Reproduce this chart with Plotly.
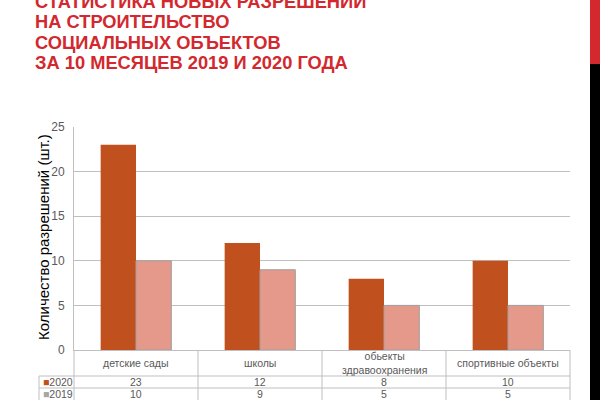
import plotly.graph_objects as go

# данные
categories = ['детские сады', 'школы', 'обьекты<br>здравоохранения', 'спортивные объекты']
years = ['2020', '2019']
values_2020 = [23, 12, 8, 10]
values_2019 = [10, 9, 5, 5]
title_lines = [
    'СТАТИСТИКА НОВЫХ РАЗРЕШЕНИЙ',
    'НА СТРОИТЕЛЬСТВО',
    'СОЦИАЛЬНЫХ ОБЪЕКТОВ',
    'ЗА 10 МЕСЯЦЕВ 2019 И 2020 ГОДА',
]
y_title = 'Количество разрешений (шт.)'
y_ticks = [0, 5, 10, 15, 20, 25]

FONT = 'Liberation Sans, Arial, sans-serif'
C2020 = '#C1501F'
C2019 = '#E5998B'
GRID = '#BFBFBF'
GREY_TXT = '#595959'

# область графика в пикселях: x 74..570, y 127..350
PL, PR, PT, PB = 74, 570, 127, 350


def py(y):  # пиксели -> paper по y
    return (PB - y) / (PB - PT)


def px_(x):  # пиксели -> paper по x
    return (x - PL) / (PR - PL)


xs = list(range(len(categories)))

fig = go.Figure()
fig.add_trace(go.Bar(x=xs, y=values_2020, name=years[0],
                     marker=dict(color=C2020, line=dict(width=0))))
fig.add_trace(go.Bar(x=xs, y=values_2019, name=years[1],
                     marker=dict(color=C2019, line=dict(width=1, color='#A0A0A0'))))

shapes = []
ann = []

# таблица данных под графиком
row_top, row_cat, row_2020, row_2019 = PB, 376, 388, 400
for b in [i + 0.5 for i in xs[:-1]]:
    shapes.append(dict(type='line', xref='x', yref='paper', x0=b, x1=b,
                       y0=py(row_top), y1=py(row_2019 + 2), line=dict(color=GRID, width=1)))
for xp in [0, 1]:
    shapes.append(dict(type='line', xref='paper', yref='paper', x0=xp, x1=xp,
                       y0=py(row_top), y1=py(row_2019 + 2), line=dict(color=GRID, width=1)))
shapes.append(dict(type='line', xref='paper', yref='paper', x0=px_(39), x1=px_(39),
                   y0=py(row_cat), y1=py(row_2019 + 2), line=dict(color=GRID, width=1)))
for yy in [row_cat, row_2020]:
    shapes.append(dict(type='line', xref='paper', yref='paper', x0=px_(39), x1=1,
                       y0=py(yy), y1=py(yy), line=dict(color=GRID, width=1)))

cell_font = dict(size=10.5, color=GREY_TXT, family=FONT)
for i, c in enumerate(categories):
    ann.append(dict(x=i, y=py((row_top + row_cat) / 2), xref='x', yref='paper', text=c,
                    xanchor='center', yanchor='middle', showarrow=False, font=cell_font))
for vals, y0, y1 in [(values_2020, row_cat, row_2020), (values_2019, row_2020, row_2019)]:
    for i, v in enumerate(vals):
        ann.append(dict(x=i, y=py((y0 + y1) / 2), xref='x', yref='paper', text=str(v),
                        xanchor='center', yanchor='middle', showarrow=False, font=cell_font))
for yr, col, y0, y1 in [(years[0], C2020, row_cat, row_2020), (years[1], '#A6A6A6', row_2020, row_2019)]:
    ann.append(dict(x=px_(41), y=py((y0 + y1) / 2), xref='paper', yref='paper',
                    xanchor='left', yanchor='middle', showarrow=False,
                    text=f"<span style='color:{col}'>■</span>{yr}", font=cell_font))

# подпись оси Y
ann.append(dict(x=px_(43), y=py(237), xref='paper', yref='paper', text=y_title,
                textangle=-90, xanchor='center', yanchor='middle', showarrow=False,
                font=dict(size=15, color='black', family=FONT)))

# заголовок
for k, t in enumerate(title_lines):
    ann.append(dict(x=px_(33), y=py(1.5 + 20.3 * k), xref='paper', yref='paper',
                    xanchor='left', yanchor='middle', text=f'<b>{t}</b>', showarrow=False,
                    font=dict(size=18.3, color='#D2282E', family=FONT)))

# полоса справа
shapes.append(dict(type='rect', xref='paper', yref='paper', x0=px_(590), x1=px_(601),
                   y0=py(-1), y1=py(64), fillcolor='#D2282E', line=dict(width=0)))
shapes.append(dict(type='rect', xref='paper', yref='paper', x0=px_(590), x1=px_(601),
                   y0=py(64), y1=py(401), fillcolor='#000000', line=dict(width=0)))

fig.update_layout(
    width=600, height=400,
    margin=dict(l=PL, r=600 - PR, t=PT, b=400 - PB),
    paper_bgcolor='white', plot_bgcolor='white',
    barmode='group', bargap=0.43, bargroupgap=0,
    showlegend=False,
    font=dict(family=FONT),
    shapes=shapes, annotations=ann,
    xaxis=dict(range=[-0.5, len(categories) - 0.5], showticklabels=False, ticks='',
               showgrid=False, showline=True, linecolor=GRID, zeroline=False),
    yaxis=dict(range=[0, 25], tickvals=y_ticks, showgrid=True, gridcolor=GRID,
               showline=True, linecolor=GRID, zeroline=False, ticks='',
               ticklabelstandoff=6,
               tickfont=dict(size=12, color=GREY_TXT, family=FONT)),
)

fig.write_html('out.html', config={'displayModeBar': False},
               post_script="document.body.style.margin='0';")
